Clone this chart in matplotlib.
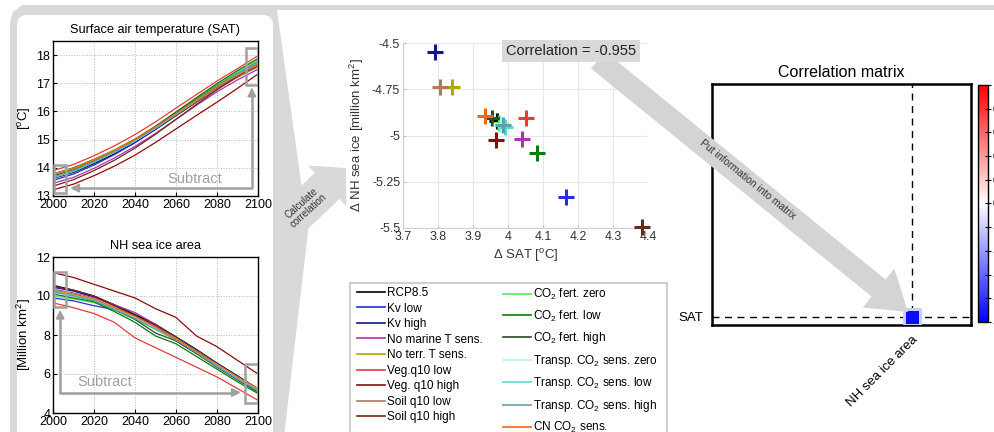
import numpy as np
import matplotlib
matplotlib.use("Agg")
import matplotlib.pyplot as plt
from matplotlib.patches import Polygon, FancyBboxPatch, FancyArrow, Rectangle
from matplotlib.transforms import Affine2D
from matplotlib.lines import Line2D
from matplotlib.colors import Normalize

plt.rcParams['font.family'] = ['Liberation Sans', 'DejaVu Sans']
plt.rcParams['mathtext.fontset'] = 'custom'
plt.rcParams['mathtext.rm'] = 'Liberation Sans'
plt.rcParams['mathtext.it'] = 'Liberation Sans:italic'

# ---------------- data ----------------
years = [2000, 2010, 2020, 2030, 2040, 2050, 2060, 2070, 2080, 2090, 2100]

series_names = ['RCP8.5', 'Kv low', 'Kv high', 'No marine T sens.', 'No terr. T sens.',
                'Veg.q10 low', 'Veg. q10 high', 'Soil q10 low', 'Soil q10 high',
                r'CO$\mathregular{_2}$ fert. zero', r'CO$\mathregular{_2}$ fert. low',
                r'CO$\mathregular{_2}$ fert. high', r'Transp. CO$\mathregular{_2}$ sens. zero',
                r'Transp. CO$\mathregular{_2}$ sens. low', r'Transp. CO$\mathregular{_2}$ sens. high',
                r'CN CO$\mathregular{_2}$ sens.']
series_colors = ['#000000', '#2a2ae0', '#14148c', '#b030b0', '#b0a800', '#e83a3a',
                 '#8c0c0c', '#b07a5a', '#6a2a1a', '#50f050', '#0a7a0a', '#2a4a2a',
                 '#b8f0f0', '#50e0d0', '#5aa0aa', '#ee6a10']

sat_rcp85       = [13.62, 13.84, 14.15, 14.50, 14.90, 15.36, 15.85, 16.33, 16.80, 17.22, 17.62]
sat_kv_low      = [13.55, 13.78, 14.10, 14.47, 14.89, 15.37, 15.88, 16.38, 16.87, 17.30, 17.72]
sat_kv_high     = [13.78, 14.00, 14.30, 14.62, 15.00, 15.44, 15.92, 16.38, 16.84, 17.25, 17.60]
sat_no_marine   = [13.45, 13.66, 13.98, 14.35, 14.76, 15.22, 15.72, 16.22, 16.70, 17.12, 17.50]
sat_no_terr     = [13.78, 13.99, 14.30, 14.64, 15.03, 15.48, 15.96, 16.42, 16.88, 17.29, 17.65]
sat_veg_low     = [13.90, 14.12, 14.43, 14.78, 15.18, 15.63, 16.12, 16.60, 17.08, 17.52, 17.98]
sat_veg_high    = [13.22, 13.42, 13.72, 14.06, 14.45, 14.90, 15.38, 15.86, 16.33, 16.82, 17.33]
sat_soil_low    = [13.72, 13.94, 14.25, 14.58, 14.96, 15.40, 15.88, 16.35, 16.80, 17.22, 17.58]
sat_soil_high   = [13.35, 13.58, 13.90, 14.27, 14.70, 15.19, 15.72, 16.25, 16.77, 17.25, 17.72]
sat_co2_zero    = [13.68, 13.91, 14.23, 14.58, 14.99, 15.46, 15.96, 16.46, 16.95, 17.40, 17.85]
sat_co2_low     = [13.65, 13.88, 14.20, 14.57, 14.99, 15.47, 15.98, 16.49, 16.99, 17.45, 17.88]
sat_co2_high    = [13.70, 13.92, 14.24, 14.59, 15.00, 15.45, 15.94, 16.43, 16.91, 17.35, 17.78]
sat_tr_zero     = [13.66, 13.89, 14.21, 14.56, 14.96, 15.42, 15.91, 16.40, 16.88, 17.32, 17.74]
sat_tr_low      = [13.64, 13.87, 14.19, 14.55, 14.95, 15.41, 15.90, 16.40, 16.88, 17.33, 17.76]
sat_tr_high     = [13.67, 13.90, 14.22, 14.57, 14.97, 15.43, 15.92, 16.41, 16.89, 17.33, 17.75]
sat_cn          = [13.75, 13.97, 14.28, 14.62, 15.01, 15.45, 15.93, 16.40, 16.86, 17.28, 17.68]

ice_rcp85       = [10.55, 10.30, 10.00, 9.55, 9.05, 8.55, 7.90, 7.25, 6.55, 5.90, 5.25]
ice_kv_low      = [9.90, 9.75, 9.50, 9.30, 8.90, 8.55, 7.70, 7.05, 6.40, 5.72, 5.05]
ice_kv_high     = [10.45, 10.25, 9.95, 9.50, 9.00, 8.45, 7.90, 7.25, 6.55, 5.90, 5.20]
ice_no_marine   = [10.35, 10.15, 9.90, 9.55, 9.15, 8.55, 7.85, 7.20, 6.50, 5.85, 5.15]
ice_no_terr     = [10.20, 10.05, 9.85, 9.45, 8.95, 8.40, 7.85, 7.20, 6.50, 5.85, 5.25]
ice_veg_low     = [9.65, 9.40, 9.10, 8.65, 7.85, 7.35, 6.85, 6.35, 5.85, 5.25, 4.65]
ice_veg_high    = [11.20, 10.95, 10.60, 10.25, 9.90, 9.35, 8.90, 7.95, 7.40, 6.70, 6.00]
ice_soil_low    = [10.30, 10.10, 9.85, 9.45, 8.95, 8.45, 7.80, 7.15, 6.45, 5.80, 5.15]
ice_soil_high   = [10.50, 10.30, 10.00, 9.50, 9.00, 8.50, 7.90, 7.20, 6.50, 5.85, 5.20]
ice_co2_zero    = [10.00, 9.85, 9.65, 9.30, 8.80, 8.30, 7.75, 7.10, 6.40, 5.75, 5.05]
ice_co2_low     = [10.10, 9.90, 9.70, 9.20, 8.65, 7.95, 7.55, 6.90, 6.25, 5.60, 5.00]
ice_co2_high    = [10.25, 10.05, 9.75, 9.30, 8.80, 8.10, 7.70, 7.05, 6.35, 5.70, 5.10]
ice_tr_zero     = [10.30, 10.10, 9.85, 9.40, 8.90, 8.35, 7.80, 7.15, 6.45, 5.80, 5.20]
ice_tr_low      = [10.25, 10.05, 9.80, 9.35, 8.85, 8.30, 7.75, 7.10, 6.40, 5.75, 5.15]
ice_tr_high     = [10.20, 10.00, 9.75, 9.30, 8.85, 8.30, 7.75, 7.10, 6.40, 5.75, 5.15]
ice_cn          = [10.30, 10.10, 9.85, 9.40, 8.95, 8.40, 7.80, 7.15, 6.50, 5.85, 5.25]

sat_series = [sat_rcp85, sat_kv_low, sat_kv_high, sat_no_marine, sat_no_terr, sat_veg_low,
              sat_veg_high, sat_soil_low, sat_soil_high, sat_co2_zero, sat_co2_low,
              sat_co2_high, sat_tr_zero, sat_tr_low, sat_tr_high, sat_cn]
ice_series = [ice_rcp85, ice_kv_low, ice_kv_high, ice_no_marine, ice_no_terr, ice_veg_low,
              ice_veg_high, ice_soil_low, ice_soil_high, ice_co2_zero, ice_co2_low,
              ice_co2_high, ice_tr_zero, ice_tr_low, ice_tr_high, ice_cn]

# scatter: change in SAT and change in NH sea ice per ensemble member
delta_sat = [3.968, 4.166, 3.791, 4.040, 3.840, 4.051, 3.966, 3.806, 4.383,
             3.975, 4.083, 3.955, 3.980, 3.991, 3.985, 3.934]
delta_ice = [-4.920, -5.332, -4.550, -5.019, -4.738, -4.905, -5.024, -4.738, -5.495,
             -4.930, -5.095, -4.905, -4.940, -4.955, -4.945, -4.895]
correlation = -0.955

matrix_rows = ['SAT']
matrix_cols = ['NH sea ice area']

# ---------------- figure ----------------
W, H = 994, 432
fig = plt.figure(figsize=(W / 100, H / 100), dpi=100)
T = Affine2D().scale(1, -1).translate(0, H)   # pixel coords, y from top


def fbox(l, t, r, b):
    return [l / W, 1 - b / H, (r - l) / W, (b - t) / H]


gray_bg = '#d9d9d9'
# background frame / chevron
fig.add_artist(Polygon([(10, 445), (10, 22), (13, 12), (22, 5), (994, 5), (994, 10),
                        (277, 10), (308, 232), (283, 445)], closed=True,
                       transform=T, fc=gray_bg, ec='none', zorder=-6))
fig.add_artist(FancyBboxPatch((17, 15), 256, 440, boxstyle='round,pad=0,rounding_size=10',
                              transform=T, fc='white', ec='none', zorder=-5))
# "Calculate correlation" arrow
fig.add_artist(FancyArrow(270, 240, 76, -72, width=36, head_width=56, head_length=26,
                          length_includes_head=True, transform=T, fc=gray_bg, ec='none',
                          zorder=-6))
fig.text(305 / W, 1 - 207 / H, 'Calculate\ncorrelation', rotation=42, ha='center',
         va='center', fontsize=7, color='#333333', linespacing=1.0)

# ---- left: SAT ----
line_gray = '#a0a0a0'
ax1 = fig.add_axes(fbox(53, 41, 258, 196))
for vals, c in zip(sat_series, series_colors):
    ax1.plot(years, vals, color=c, lw=0.9)
ax1.set_xlim(2000, 2100)
ax1.set_ylim(13, 18.5)
ax1.set_xticks(range(2000, 2101, 20))
ax1.set_yticks(range(13, 19))
ax1.grid(True, ls=':', color='#b5b5b5', lw=0.7)
ax1.tick_params(direction='in', length=3, labelsize=9, pad=2)
ax1.set_title('Surface air temperature (SAT)', fontsize=9.2, pad=6)
ax1.set_ylabel(r'[$\mathregular{^o}$C]', fontsize=9.5, labelpad=2)
ax1.add_patch(Rectangle((2000.5, 13.12), 6, 0.98, fill=False, ec=line_gray, lw=1.8, zorder=5))
ax1.add_patch(Rectangle((2094, 16.95), 6, 1.3, fill=False, ec=line_gray, lw=1.8, zorder=5))
ax1.plot([2097, 2097, 2010], [16.7, 13.28, 13.28], color=line_gray, lw=1.8, zorder=5)
ax1.annotate('', xy=(2007, 13.28), xytext=(2012, 13.28),
             arrowprops=dict(arrowstyle='-|>', color=line_gray, lw=1.5, mutation_scale=12), zorder=5)
ax1.annotate('', xy=(2097, 16.95), xytext=(2097, 16.6),
             arrowprops=dict(arrowstyle='-|>', color=line_gray, lw=1.5, mutation_scale=12), zorder=5)
ax1.text(2069, 13.62, 'Subtract', color=line_gray, fontsize=10.5, ha='center', va='center', zorder=5)
for s in ax1.spines.values():
    s.set_linewidth(1.0)

# ---- left: NH sea ice ----
ax2 = fig.add_axes(fbox(53, 257, 258, 413))
for vals, c in zip(ice_series, series_colors):
    ax2.plot(years, vals, color=c, lw=0.9)
ax2.set_xlim(2000, 2100)
ax2.set_ylim(4, 12)
ax2.set_xticks(range(2000, 2101, 20))
ax2.set_yticks(range(4, 13, 2))
ax2.grid(True, ls=':', color='#b5b5b5', lw=0.7)
ax2.tick_params(direction='in', length=3, labelsize=9, pad=2)
ax2.set_title('NH sea ice area', fontsize=9.2, pad=6)
ax2.set_ylabel(r'[Million km$\mathregular{^2}$]', fontsize=9.5, labelpad=2)
ax2.add_patch(Rectangle((2000.5, 9.44), 6, 1.8, fill=False, ec=line_gray, lw=1.8, zorder=5))
ax2.add_patch(Rectangle((2093.5, 4.5), 6.5, 2.0, fill=False, ec=line_gray, lw=1.8, zorder=5))
ax2.plot([2003.5, 2003.5, 2089], [9.1, 5.05, 5.05], color=line_gray, lw=1.8, zorder=5)
ax2.annotate('', xy=(2093, 5.05), xytext=(2088, 5.05),
             arrowprops=dict(arrowstyle='-|>', color=line_gray, lw=1.5, mutation_scale=12), zorder=5)
ax2.annotate('', xy=(2003.5, 9.44), xytext=(2003.5, 8.9),
             arrowprops=dict(arrowstyle='-|>', color=line_gray, lw=1.5, mutation_scale=12), zorder=5)
ax2.text(2025, 5.6, 'Subtract', color=line_gray, fontsize=10.5, ha='center', va='center', zorder=5)
for s in ax2.spines.values():
    s.set_linewidth(1.0)

# ---- scatter ----
ax3 = fig.add_axes(fbox(403, 43, 648, 228))
for x, y, c in zip(delta_sat, delta_ice, series_colors):
    ax3.plot(x, y, marker='+', ms=12, mew=2.2, color=c, ls='none', clip_on=False, zorder=3)
ax3.set_xlim(3.7, 4.4)
ax3.set_ylim(-5.5, -4.5)
xt = [3.7, 3.8, 3.9, 4.0, 4.1, 4.2, 4.3, 4.4]
ax3.set_xticks(xt)
ax3.set_xticklabels(['3.7', '3.8', '3.9', '4', '4.1', '4.2', '4.3', '4.4'])
yt = [-5.5, -5.25, -5.0, -4.75, -4.5]
ax3.set_yticks(yt)
ax3.set_yticklabels(['-5.5', '-5.25', '-5', '-4.75', '-4.5'])
ax3.grid(True, color='#e8e8e8', lw=0.8)
ax3.set_axisbelow(True)
for k in ['top', 'right']:
    ax3.spines[k].set_visible(False)
for k in ['left', 'bottom']:
    ax3.spines[k].set_color('#d0d0d0')
ax3.tick_params(direction='in', length=2, color='#c0c0c0', labelsize=9, labelcolor='#333333', pad=2)
ax3.set_xlabel(r'Δ SAT [$\mathregular{^o}$C]', fontsize=9.5, color='#333333', labelpad=3)
ax3.set_ylabel(r'Δ NH sea ice [million km$\mathregular{^2}$]', fontsize=9.5, color='#333333', labelpad=4)

# ---- legend ----
fig.add_artist(Rectangle((350, 283), 317, 170, transform=T, fc='white', ec='#d0d0d0', lw=1.5, zorder=1))
handles = [Line2D([], [], color=c, lw=1.2) for c in series_colors]
leg1 = fig.legend(handles[:9], series_names[:9], loc='upper left',
                  bbox_to_anchor=(357 / W, 1 - 287 / H), frameon=False, fontsize=8.5,
                  handlelength=2.4, handletextpad=0.1, labelspacing=0.3, borderpad=0,
                  borderaxespad=0)
leg2 = fig.legend(handles[9:], series_names[9:], loc='upper left',
                  bbox_to_anchor=(503 / W, 1 - 287 / H), frameon=False, fontsize=8.5,
                  handlelength=2.4, handletextpad=0.1, labelspacing=0.55, borderpad=0,
                  borderaxespad=0)
leg1.set_zorder(2)
leg2.set_zorder(2)

# ---- correlation matrix ----
col_idx, row_idx = 12, 0
ax4 = fig.add_axes(fbox(712, 84, 971, 325))
cmap = plt.get_cmap('bwr')
norm = Normalize(-1, 1)
mesh = ax4.pcolormesh([col_idx, col_idx + 1], [row_idx, row_idx + 1], [[correlation]],
                      cmap=cmap, norm=norm, edgecolors='#c8d0f0', linewidth=1.0, zorder=3)
ax4.set_xlim(0, 16.2)
ax4.set_ylim(0, 15.06)
ax4.axvline(col_idx + 0.5, color='black', ls=(0, (5, 4)), lw=1.0, zorder=2)
ax4.axhline(row_idx + 0.5, color='black', ls=(0, (5, 4)), lw=1.0, zorder=2)
ax4.set_xticks([col_idx + 0.5])
ax4.set_xticklabels(matrix_cols, rotation=45, ha='right', va='top', rotation_mode='anchor',
                    fontsize=9.5)
ax4.set_yticks([row_idx + 0.5])
ax4.set_yticklabels(matrix_rows, fontsize=9.5)
ax4.tick_params(length=0, pad=6)
ax4.set_title('Correlation matrix', fontsize=11.5, pad=5)
for s in ax4.spines.values():
    s.set_linewidth(1.8)

cax = fig.add_axes(fbox(978, 85, 988, 322))
cb = fig.colorbar(mesh, cax=cax)
cb.set_ticks([1, 0.8, 0.6, 0.4, 0.2, 0, -0.2, -0.4, -0.6, -0.8, -1])
cb.set_ticklabels(['1', '0.8', '0.6', '0.4', '0.2', '0', '-0.2', '-0.4', '-0.6', '-0.8', '-1'])
cax.tick_params(direction='inout', length=4, width=0.8, labelsize=8, pad=1)
cb.outline.set_linewidth(1.0)

# ---- "Put information into matrix" arrow ----
fig.add_artist(FancyArrow(598, 60, 310, 252, width=22, head_width=50, head_length=38,
                          length_includes_head=True, transform=T, fc='#d4d4d4', ec='none',
                          zorder=6))
fig.text(748 / W, 1 - 180 / H, 'Put information into matrix', rotation=-39, ha='center',
         va='center', fontsize=7.5, color='#333333', zorder=7)

fig.text(571 / W, 1 - 51 / H, 'Correlation = %.3f' % correlation, ha='center', va='center',
         fontsize=10.5, color='#222222', zorder=8,
         bbox=dict(boxstyle='square,pad=0.3', fc='#d9d9d9', ec='none'))

fig.savefig('out.png', dpi=100)
